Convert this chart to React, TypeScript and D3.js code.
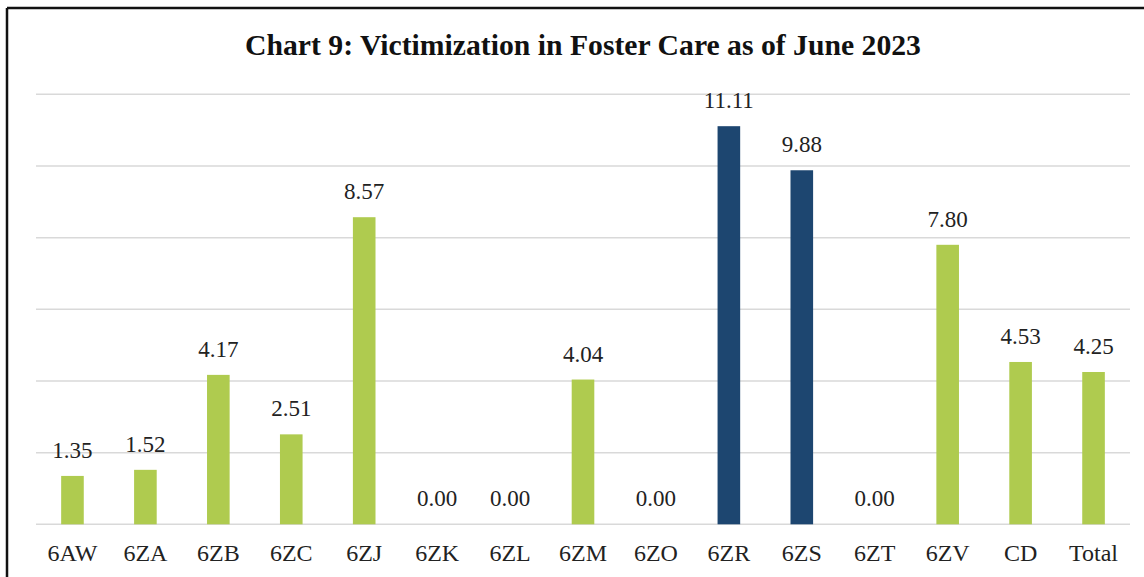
import React from "react";
import * as d3 from "d3";

const categories = ["6AW", "6ZA", "6ZB", "6ZC", "6ZJ", "6ZK", "6ZL", "6ZM", "6ZO", "6ZR", "6ZS", "6ZT", "6ZV", "CD", "Total"];
const values = [1.35, 1.52, 4.17, 2.51, 8.57, 0, 0, 4.04, 0, 11.11, 9.88, 0, 7.8, 4.53, 4.25];
const highlighted = ["6ZR", "6ZS"];
const yTicks = [0, 2, 4, 6, 8, 10, 12];
const title = "Chart 9: Victimization in Foster Care as of June 2023";

const W = 1144;
const H = 577;
const GREEN = "#AFCB4F";
const NAVY = "#1D4670";
const FONT = "'Liberation Serif', 'Times New Roman', serif";

export default function App() {
  const x = d3.scaleBand<string>().domain(categories).range([36, 1130]).paddingInner(0.69).paddingOuter(0.345);
  const y = d3.scaleLinear().domain([0, 12]).range([524.3, 94.3]);

  return (
    <svg width={W} height={H} style={{ position: "absolute", left: 0, top: 0, background: "#fff" }}>
      <rect x={0} y={0} width={W} height={H} fill="#fff" />
      {yTicks.map((t) => (
        <line key={t} x1={36} x2={1130} y1={y(t)} y2={y(t)} stroke="#D9D9D9" strokeWidth={1.5} />
      ))}
      {categories.map((c, i) => {
        const v = values[i];
        const bx = x(c)!;
        const bw = x.bandwidth();
        return (
          <g key={c}>
            {v > 0 && (
              <rect x={bx} y={y(v)} width={bw} height={y(0) - y(v)} fill={highlighted.includes(c) ? NAVY : GREEN} />
            )}
            <text x={bx + bw / 2} y={y(v) - 18} textAnchor="middle" fontFamily={FONT} fontSize={23} fill="#222">
              {v.toFixed(2)}
            </text>
            <text x={bx + bw / 2} y={561} textAnchor="middle" fontFamily={FONT} fontSize={24} fill="#222">
              {c}
            </text>
          </g>
        );
      })}
      <text x={583} y={55} textAnchor="middle" fontFamily={FONT} fontSize={29.7} fontWeight="bold" fill="#111">
        {title}
      </text>
      <line x1={7} x2={W} y1={8} y2={8} stroke="#111" strokeWidth={2.5} />
      <line x1={7} x2={7} y1={8} y2={H} stroke="#111" strokeWidth={2.5} />
    </svg>
  );
}
